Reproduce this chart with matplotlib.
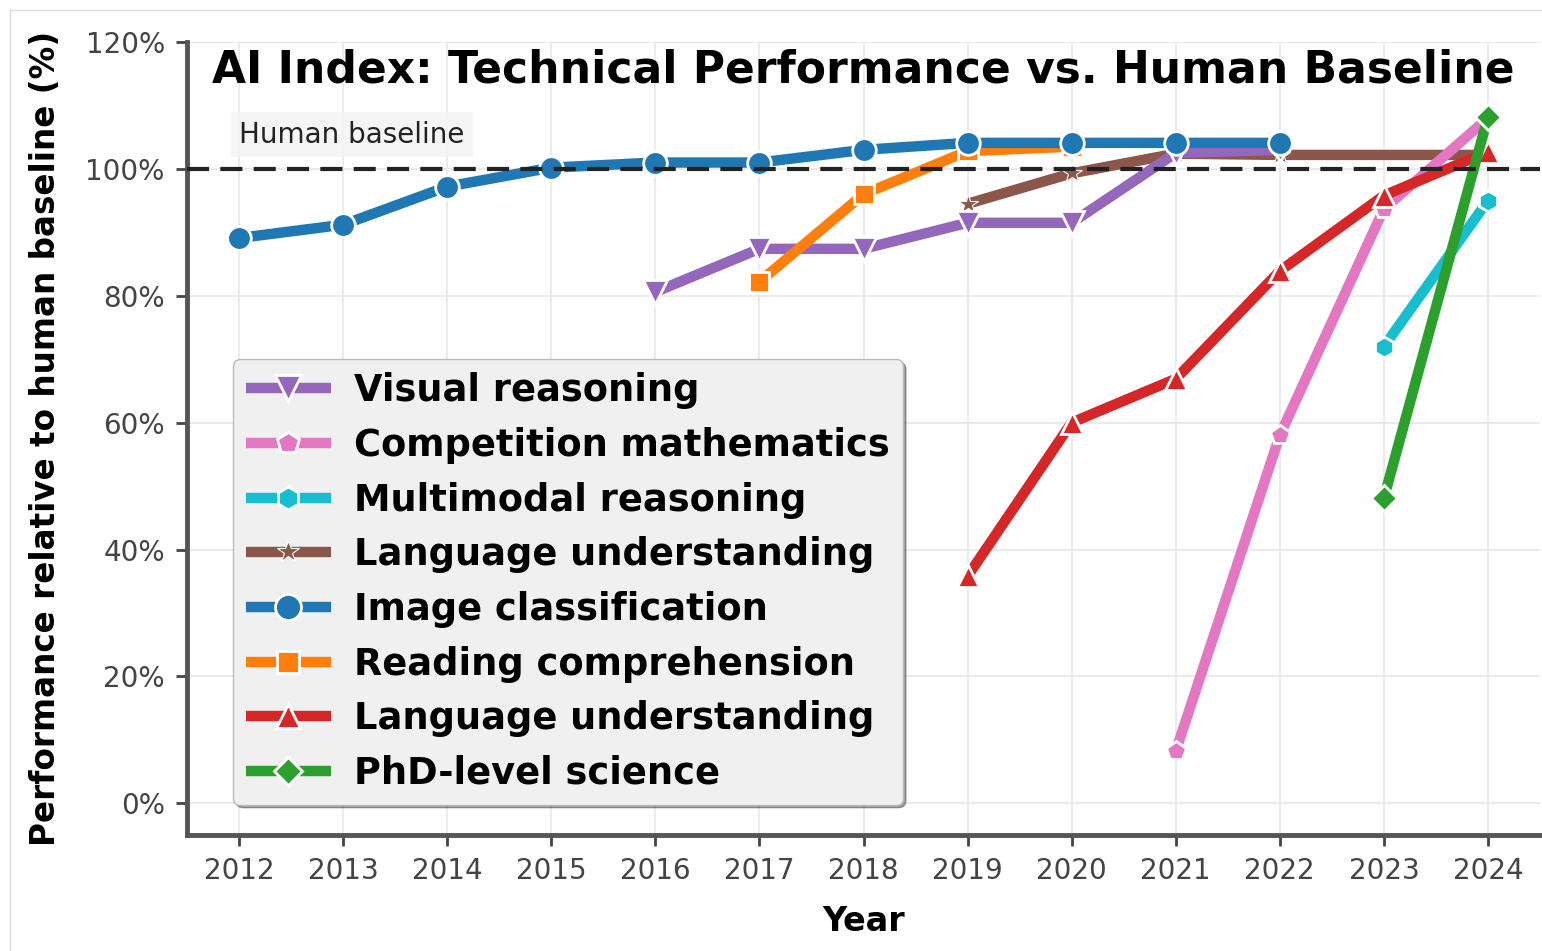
import matplotlib
matplotlib.use("Agg")
import matplotlib.pyplot as plt
from matplotlib.lines import Line2D
import numpy as np

# ---- data ----
years_visual = [2016, 2017, 2018, 2019, 2020, 2021, 2022]
visual_reasoning = [80.6, 87.4, 87.4, 91.5, 91.5, 102.5, 103.0]

years_math = [2021, 2022, 2023, 2024]
competition_math = [8.2, 58.0, 93.7, 108.0]

years_multi = [2023, 2024]
multimodal_reasoning = [72.0, 95.0]

years_lang1 = [2019, 2020, 2021, 2022, 2024]
language_understanding_1 = [94.5, 99.3, 102.4, 102.2, 102.2]

years_image = [2012, 2013, 2014, 2015, 2016, 2017, 2018, 2019, 2020, 2021, 2022]
image_classification = [89.1, 91.2, 97.2, 100.2, 101.0, 101.0, 103.0, 104.1, 104.1, 104.1, 104.1]

years_reading = [2017, 2018, 2019, 2020]
reading_comprehension = [82.2, 96.0, 102.8, 103.5]

years_lang2 = [2019, 2020, 2021, 2022, 2023, 2024]
language_understanding_2 = [35.8, 60.0, 66.9, 83.9, 95.8, 102.7]

years_phd = [2023, 2024]
phd_science = [48.1, 108.2]

series_names = ["Visual reasoning", "Competition mathematics", "Multimodal reasoning",
                "Language understanding", "Image classification", "Reading comprehension",
                "Language understanding", "PhD-level science"]
tick_years = list(range(2012, 2025))
y_ticks = [0, 20, 40, 60, 80, 100, 120]

# ---- figure ----
fig = plt.figure(figsize=(15.42, 9.51), dpi=100)
ax = fig.add_axes([187/1542, 116/951, 1353/1542, 793/951])

styles = [
    (years_visual, visual_reasoning, "#9467bd", "v", 17, 2, 2),
    (years_math, competition_math, "#e377c2", "p", 15, 5, 2),
    (years_multi, multimodal_reasoning, "#17becf", "h", 15, 6, 2),
    (years_lang1, language_understanding_1, "#8c564b", "*", 15, 1, 0.8),
    (years_image, image_classification, "#1f77b4", "o", 17, 4, 2),
    (years_reading, reading_comprehension, "#ff7f0e", "s", 15, 3, 2),
    (years_lang2, language_understanding_2, "#d62728", "^", 16, 7, 2),
    (years_phd, phd_science, "#2ca02c", "D", 13, 8, 2),
]

handles = []
for (xs, ys, col, mk, ms, z, mew), name in zip(styles, series_names):
    h, = ax.plot(xs, ys, color=col, marker=mk, markersize=ms, linewidth=7.5,
                 markeredgecolor="white", markeredgewidth=mew, label=name,
                 zorder=z + 2, solid_capstyle="butt")
    handles.append(h)

ax.axhline(100, color="#222222", linestyle=(0, (5.3, 2.7)), linewidth=3, zorder=20)
ax.text(2012.0, 105.4, "Human baseline", fontsize=20, color="#222222", va="center",
        ha="left", zorder=21,
        bbox=dict(boxstyle="square,pad=0.3", facecolor="#f4f4f4", edgecolor="none", alpha=0.9))

ax.set_xlim(2011.5, 2024.5)
ax.set_ylim(-5, 120)
ax.set_xticks(tick_years)
ax.set_xticklabels([str(y) for y in tick_years])
ax.set_yticks(y_ticks)
ax.set_yticklabels([f"{v}%" for v in y_ticks])
ax.tick_params(axis="both", labelsize=20, colors="#444444", length=8, width=2,
               direction="out", pad=8)
ax.grid(True, color="#e8e8e8", linewidth=1.2, zorder=0)
ax.set_axisbelow(True)

for s in ["top", "right"]:
    ax.spines[s].set_visible(False)
for s in ["left", "bottom"]:
    ax.spines[s].set_linewidth(3.5)
    ax.spines[s].set_color("#555555")

ax.set_xlabel("Year", fontsize=24, fontweight="bold", labelpad=14)
ax.set_ylabel("Performance relative to human baseline (%)", fontsize=23.5,
              fontweight="bold", labelpad=17)
ax.text(0.5, 1 - 28/793, "AI Index: Technical Performance vs. Human Baseline",
        transform=ax.transAxes, ha="center", va="center", fontsize=31.7,
        fontweight="bold", zorder=30)

leg = ax.legend(handles=handles, loc="lower left", bbox_to_anchor=(0.034, 0.038),
                borderaxespad=0, prop={"weight": "bold", "size": 26.5},
                frameon=True, fancybox=True, shadow=True, handlelength=2.3,
                handletextpad=0.65, labelspacing=0.48, facecolor="#f0f0f0",
                edgecolor="#bbbbbb", framealpha=1, borderpad=0.35, markerscale=1.1)
leg.set_zorder(40)

# screenshot frame lines
fig.add_artist(Line2D([10/1542, 10/1542], [0, 1 - 10/951], color="#dddddd", linewidth=1,
                      transform=fig.transFigure))
fig.add_artist(Line2D([10/1542, 1], [1 - 10/951, 1 - 10/951], color="#dddddd", linewidth=1,
                      transform=fig.transFigure))

fig.savefig("out.png", dpi=100)
